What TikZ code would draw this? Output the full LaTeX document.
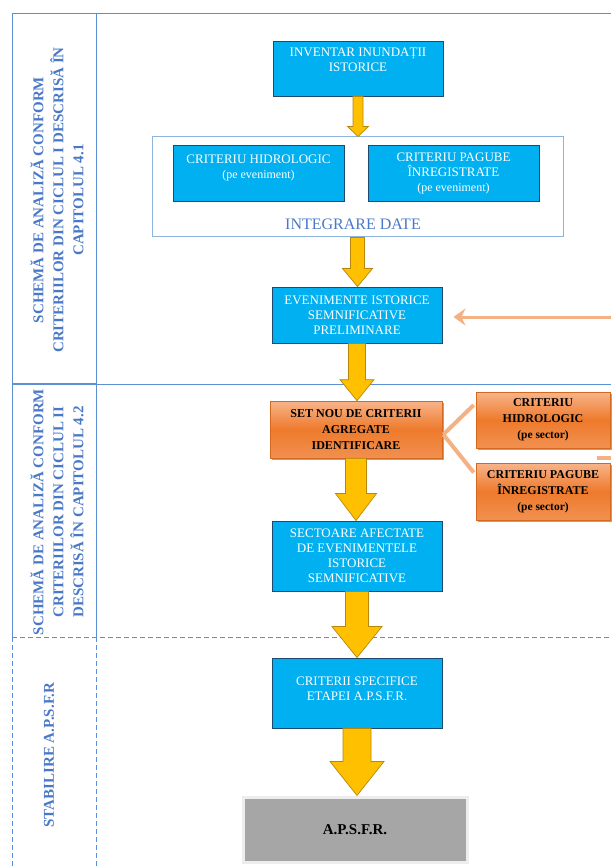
\documentclass[tikz,border=0pt]{standalone}
\usepackage{fontspec}
\setmainfont{Liberation Serif}
\usetikzlibrary{calc,arrows.meta,shadows}
\definecolor{cyanfill}{HTML}{00B0F0}
\definecolor{cyanedge}{HTML}{1F4A70}
\definecolor{tblue}{HTML}{5B8FD2}
\definecolor{lblue}{HTML}{8DB3E2}
\definecolor{labblue}{HTML}{4A78C8}
\definecolor{yfill}{HTML}{FFC000}
\definecolor{yedge}{HTML}{B8860B}
\definecolor{salmon}{HTML}{F4B183}
\definecolor{otop}{HTML}{F8B48A}
\definecolor{omid}{HTML}{EE7A2C}
\definecolor{obot}{HTML}{F29050}
\definecolor{oedge}{HTML}{D2691E}
\definecolor{apsgray}{HTML}{A6A6A6}
\definecolor{apsedge}{HTML}{EDEDED}
\tikzset{
  cbox/.style={draw=cyanedge, line width=0.9pt, fill=cyanfill, text=white, align=center, inner sep=0pt,
    font=\fontsize{13}{15}\selectfont},
  obox/.style={draw=oedge, line width=0.6pt, top color=otop, bottom color=obot, middle color=omid,
    text=black, align=center, inner sep=0pt, font=\bfseries\fontsize{12}{16}\selectfont,
    drop shadow={shadow xshift=1.5pt, shadow yshift=-2pt, fill=black!70, opacity=0.5}},
  contbox/.style={draw=lblue, line width=1pt, inner sep=0pt},
  lab/.style={text=labblue, align=center, rotate=90, font=\bfseries\fontsize{15}{20}\selectfont},
  tline/.style={draw=tblue, line width=1pt},
  tdash/.style={draw=tblue, line width=1pt, dash pattern=on 5pt off 3pt},
  yarrow/.style={fill=yfill, draw=yedge, line width=0.7pt, line join=miter},
  sline/.style={draw=salmon, line width=4pt},
  sarrow/.style={draw=salmon, line width=3pt, -{Stealth[length=12pt,width=17pt,inset=4pt]}}
}
\newcommand\blockarrow[5]{%
  \filldraw[yarrow] let \p1=(#1), \p2=(#2) in
    (\x1-#3pt,\y1) -- (\x1+#3pt,\y1) -- (\x1+#3pt,\y2+#5pt) -- (\x1+#4pt,\y2+#5pt)
    -- (\x1,\y2) -- (\x1-#4pt,\y2+#5pt) -- (\x1-#3pt,\y2+#5pt) -- cycle;}
\newcommand\liftlines[2]{\raisebox{#1}[0pt][0pt]{\begin{tabular}{@{}c@{}}#2\end{tabular}}}
\newcommand\subtxt[1]{{\fontsize{12}{15}\selectfont #1}}
\begin{document}
\begin{tikzpicture}[x=1pt,y=-1pt]
\useasboundingbox (0,0) rectangle (611,866);
% table grid
\coordinate (tl) at (12,14);
\coordinate (tr) at (611,14);
\coordinate (c1) at (96,14);
\coordinate (r1l) at (12,384);
\coordinate (r1m) at (96,384);
\coordinate (r1r) at (611,384);
\coordinate (r2l) at (12,637);
\coordinate (r2m) at (96,637);
\coordinate (r2r) at (611,637);
\coordinate (bl) at (12,866);
\coordinate (bm) at (96,866);
\draw[tline] (tl) -- (tr);
\draw[tline] (tl) -- (r2l);
\draw[tline] (c1) -- (r2m);
\draw[tline, line width=1.5pt] (r1l) -- (r1m);
\draw[tline] (r1m) -- (r1r);
\draw[tdash] (r2l) -- (r2r);
\draw[tdash] (r2l) -- (bl);
\draw[tdash] (r2m) -- (bm);
% row labels
\node[lab] (lab1) at (57,200) {SCHEMĂ DE ANALIZĂ CONFORM\\CRITERIILOR DIN CICLUL I DESCRISĂ ÎN\\CAPITOLUL 4.1};
\node[lab] (lab2) at (57,512) {SCHEMĂ DE ANALIZĂ CONFORM\\CRITERIILOR DIN CICLUL II\\DESCRISĂ ÎN CAPITOLUL 4.2};
\node[lab] (lab3) at (49,755) {STABILIRE A.P.S.F.R};
% nodes
\node[cbox, minimum width=170pt, minimum height=55pt] (inv) at (358,68.5) {\liftlines{4.5pt}{INVENTAR INUNDAȚII\\ISTORICE}};
\node[contbox, minimum width=411pt, minimum height=100pt] (cont) at (357.5,187) {};
\node[cbox, minimum width=171pt, minimum height=56pt] (h1) at (258.5,173) {\liftlines{2pt}{CRITERIU HIDROLOGIC\\\subtxt{(pe eveniment)}}};
\node[cbox, minimum width=171pt, minimum height=56pt] (p1) at (453.5,173) {CRITERIU PAGUBE\\ÎNREGISTRATE\\\subtxt{(pe eveniment)}};
\node[text=labblue, font=\fontsize{16}{18}\selectfont, inner sep=0pt] (integ) at (353,224) {INTEGRARE DATE};
\node[cbox, minimum width=170pt, minimum height=56pt] (ev) at (357,315) {EVENIMENTE ISTORICE\\SEMNIFICATIVE\\PRELIMINARE};
\node[obox, minimum width=172pt, minimum height=57pt] (set) at (356,429.5) {SET NOU DE CRITERII\\AGREGATE\\IDENTIFICARE};
\node[obox, minimum width=134pt, minimum height=56pt] (hyd) at (543,420) {CRITERIU\\HIDROLOGIC\\{\fontsize{11.5}{16}\selectfont(pe sector)}};
\node[obox, minimum width=134pt, minimum height=57pt] (pag) at (543,491.5) {CRITERIU PAGUBE\\ÎNREGISTRATE\\{\fontsize{11.5}{16}\selectfont(pe sector)}};
\node[cbox, minimum width=170pt, minimum height=70pt] (sec) at (357,556) {SECTOARE AFECTATE\\DE EVENIMENTELE\\ISTORICE\\SEMNIFICATIVE};
\node[cbox, minimum width=170pt, minimum height=70pt] (crit) at (357,693) {\liftlines{0.5pt}{CRITERII SPECIFICE\\ETAPEI A.P.S.F.R.}};
\node[draw=apsedge, line width=3pt, fill=apsgray, minimum width=224pt, minimum height=65pt,
  font=\bfseries\fontsize{15}{18}\selectfont, inner sep=0pt] (aps) at (355,829.5) {A.P.S.F.R.};
% yellow block arrows
\blockarrow{inv.south}{cont.north}{5}{10.5}{10}
\blockarrow{cont.south}{ev.north}{7}{15}{18}
\blockarrow{ev.south}{set.north}{8.5}{17}{21}
\blockarrow{set.south}{sec.north}{10.5}{20.5}{27}
\blockarrow{sec.south}{crit.north}{11.5}{25}{31}
\blockarrow{crit.south}{aps.north}{14}{27}{34}
% salmon connectors
\coordinate (rin) at (611,317);
\draw[sarrow] (rin) -- ($(ev.east)+(11,2)$);
\draw[sline] ($(set.east)+(1,5)$) -- ($(hyd.west)+(-2,-15)$);
\draw[sline] ($(set.east)+(1,5)$) -- ($(pag.west)+(-2,-19)$);
\coordinate (s1) at (597,458);
\coordinate (s2) at (611,458);
\draw[sline] (s1) -- (s2);
\end{tikzpicture}
\end{document}
